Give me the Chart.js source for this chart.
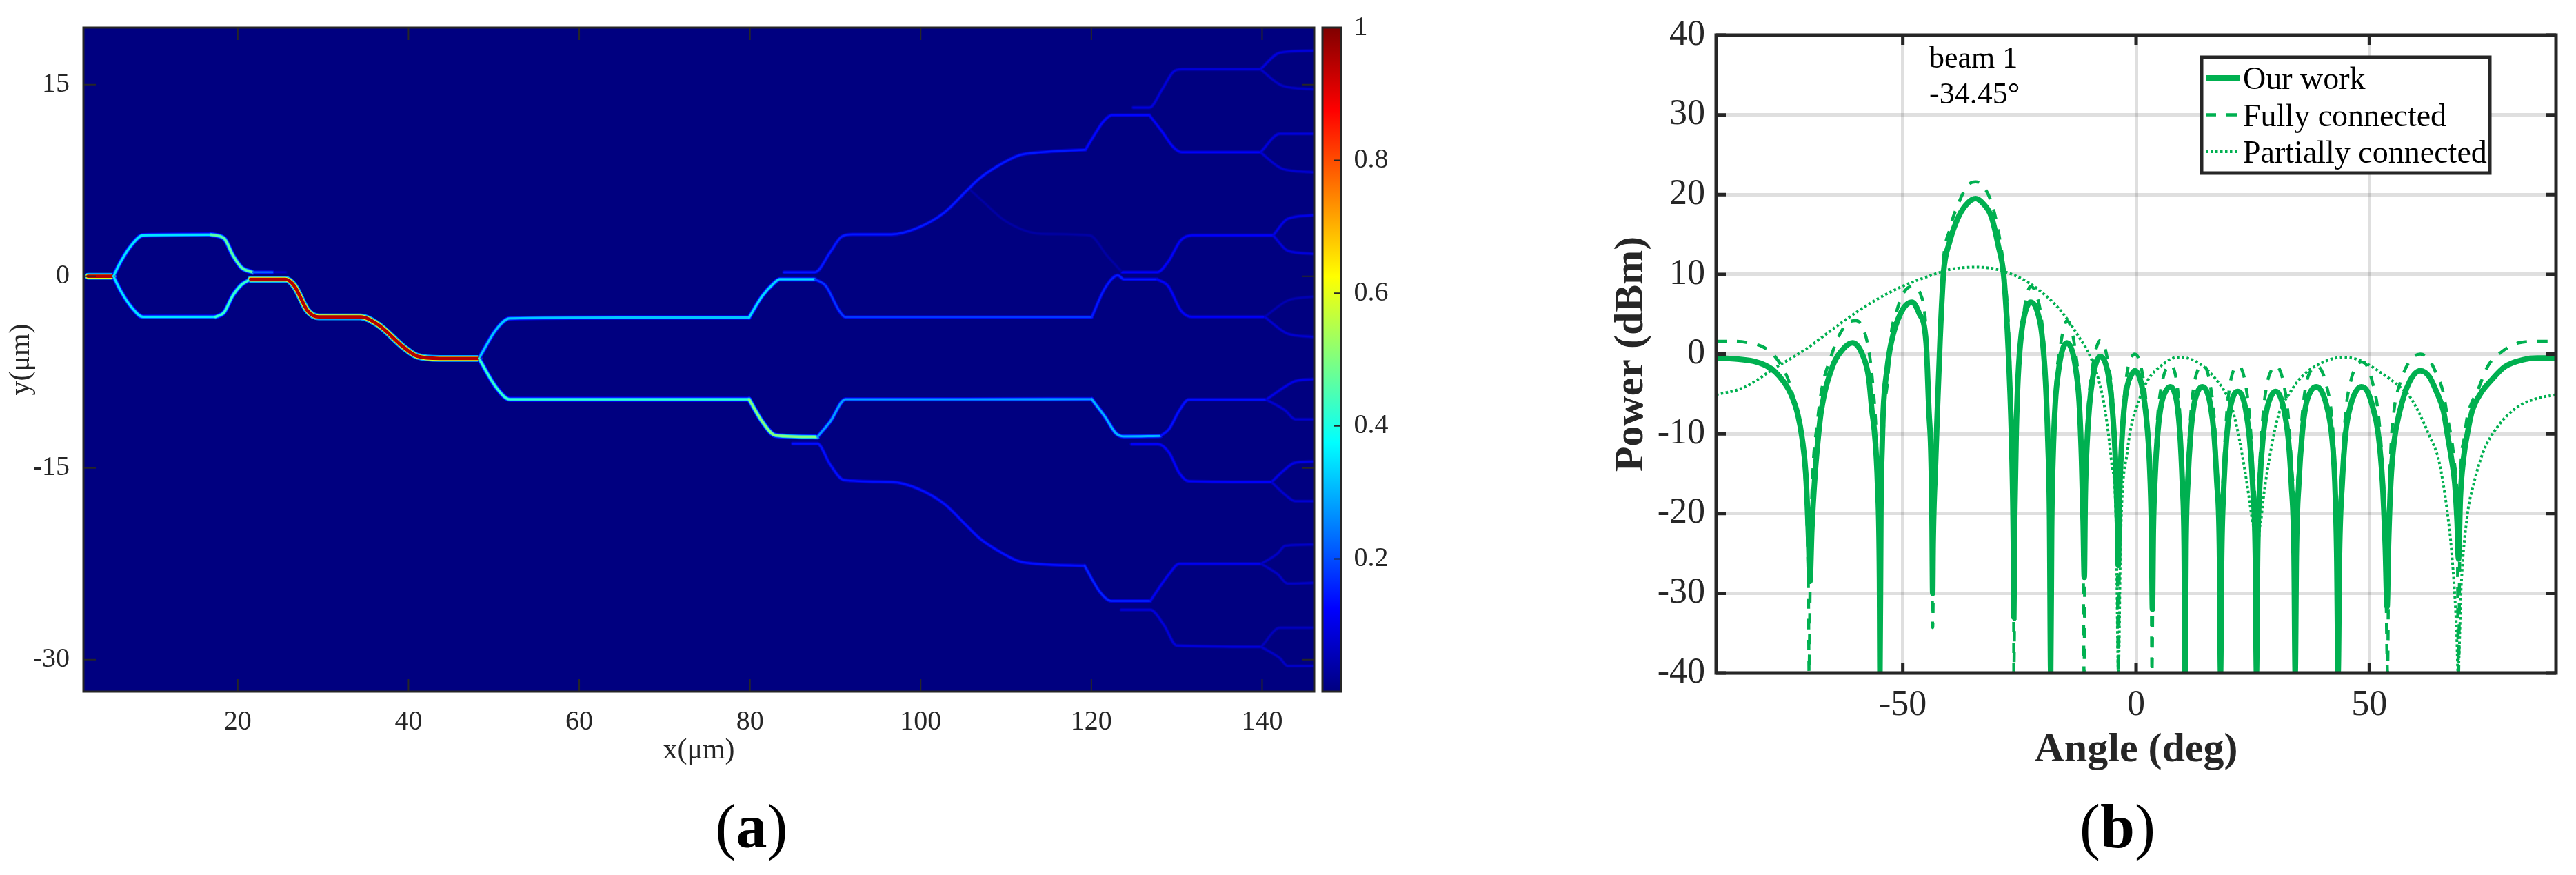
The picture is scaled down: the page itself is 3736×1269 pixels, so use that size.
<!DOCTYPE html>
<html>
<head>
<meta charset="utf-8">
<title>Waveguide field and beam pattern</title>
<script src="https://cdn.jsdelivr.net/npm/chart.js@4/dist/chart.umd.min.js"></script>
<style>
  html, body { margin: 0; background: #fff; overflow: hidden; }
  body { position: relative; width: 3736px; height: 1269px; font-family: "Liberation Serif", serif; }
  canvas { position: absolute; top: 0; }
  .note { position: absolute; color: #000; font-size: 44px; line-height: 52px; white-space: pre; }
  .panel { position: absolute; color: #000; font-size: 90px; line-height: 90px; transform: translateX(-50%); }
</style>
</head>
<body>
<canvas id="fieldChart" width="1912" height="1130" style="left:0"></canvas>
<canvas id="colorBar" width="190" height="1130" style="left:1912px"></canvas>
<canvas id="beamChart" width="1436" height="1130" style="left:2300px"></canvas>
<div class="note" style="left:2798px;top:58px">beam 1
-34.45°</div>
<div class="panel" style="left:1090px;top:1154px">(<b>a</b>)</div>
<div class="panel" style="left:3071px;top:1154px">(<b>b</b>)</div>

<script>
// panel (a): field tick labels
const fieldXTicks = [20, 40, 60, 80, 100, 120, 140];
const fieldYTicks = [-30, -15, 0, 15];
const barTicks = [0.2, 0.4, 0.6, 0.8, 1];

// panel (a): waveguide traces, [x um, y um]
const inputGuide = [[2.45, 0], [5.43, 0]];
const armUpper = [[5.43, 0], [6.3, 1.16], [7.6, 2.48], [8.88, 3.2], [16.86, 3.25]];
const armUpperEnd = [[16.86, 3.25], [18.4, 2.96], [19.43, 1.64], [20.46, 0.67], [21.75, 0.31]];
const armUpperFade = [[21.75, 0.31], [24.07, 0.31]];
const armUpperFaint = [[24.07, 0.31], [25.6, 0.31]];
const armLower = [[5.43, 0], [6.3, -1.16], [7.6, -2.46], [8.88, -3.18], [17.38, -3.18]];
const armLowerEnd = [[17.38, -3.18], [18.4, -2.82], [19.43, -1.49], [20.46, -0.65], [21.5, -0.24]];
const hotGuide = [[21.5, -0.24], [25.6, -0.24], [26.64, -0.77], [28.18, -2.7], [29.47, -3.18], [34.36, -3.18],
  [36.42, -3.78], [39.5, -5.59], [41.05, -6.26], [43.62, -6.43], [48.25, -6.43]];
const splitUpper = [[48.25, -6.43], [50.3, -4.14], [51.86, -3.3], [65, -3.23], [79.9, -3.23]];
const splitLower = [[48.25, -6.43], [50.3, -8.72], [51.86, -9.63], [65, -9.63], [79.9, -9.63]];

const midBump = [[79.9, -3.23], [81.44, -1.55], [82.73, -0.6], [83.5, -0.24], [87.62, -0.24]];
const midReturn = [[87.62, -0.24], [88.9, -0.77], [90.45, -2.7], [91.2, -3.2], [105, -3.2], [120.04, -3.2]];
const midFork = [[84, 0.31], [87.6, 0.31], [89.4, 1.88], [90.7, 3.08], [92, 3.27], [96.6, 3.27], [99.7, 3.8],
  [102.8, 5], [105.4, 6.7], [106.9, 7.66], [109, 8.62], [111.5, 9.46], [114.1, 9.7], [119.3, 9.9]];
const topBump = [[119.3, 9.9], [120.3, 11], [121.4, 12.1], [122.4, 12.6], [126.8, 12.6]];
const topForkUp = [[124.9, 13.2], [126.8, 13.2], [128.3, 14.64], [129.6, 16], [130.6, 16.2], [139.8, 16.2]];
const topForkDown = [[126.8, 12.6], [128.3, 11.3], [129.6, 10.1], [130.6, 9.7], [139.8, 9.7]];
const topEndA = [[139.8, 16.2], [142.1, 17.5], [145.9, 17.65]];
const topEndB = [[139.8, 16.2], [142.4, 14.9], [145.9, 14.64]];
const topEndC = [[139.8, 9.7], [142.1, 11.15], [145.9, 11.15]];
const topEndD = [[139.8, 9.7], [142.4, 8.4], [145.9, 8.14]];
const faintArc = [[105.9, 6.7], [107.1, 5.97], [110, 4.29], [114.1, 3.32], [119.8, 3.2], [121.8, 1.64], [123.6, 0.31]];
const innerBump = [[120.04, -3.2], [121.6, -0.92], [123.1, 0.07], [123.8, -0.24], [127.7, -0.24]];
const innerReturn = [[127.7, -0.24], [129, -0.77], [130.5, -2.7], [131.8, -3.18], [140.3, -3.18]];
const innerFork = [[123.6, 0.31], [127.7, 0.31], [129, 1.15], [130.5, 2.84], [131.8, 3.2], [141.3, 3.2]];
const innerEndA = [[141.3, 3.2], [143, 4.5], [145.9, 4.77]];
const innerEndB = [[141.3, 3.2], [143, 2], [145.9, 1.76]];
const innerEndC = [[140.3, -3.18], [143, -1.9], [145.9, -1.6]];
const innerEndD = [[140.3, -3.18], [143, -4.5], [145.9, -4.74]];

const lowBump = [[79.9, -9.63], [81.44, -11.37], [83, -12.45], [87.9, -12.57]];
const lowReturn = [[87.9, -12.57], [89.4, -11.37], [91.2, -9.63], [105, -9.63], [120.04, -9.62]];
const lowFork = [[85, -13.1], [87.9, -13.1], [89.4, -14.74], [91, -15.94], [96.6, -16.1], [99.7, -16.63], [102.8, -17.83],
  [105.4, -19.53], [106.9, -20.5], [109, -21.45], [111.5, -22.3], [114.1, -22.53], [119.2, -22.65]];
const lowRight = [[120.04, -9.62], [121.6, -11], [122.9, -12.3], [123.8, -12.53], [128.1, -12.5]];
const lowRightUp = [[128.1, -12.5], [129.1, -11.95], [130.3, -10.5], [131.4, -9.65], [140.5, -9.65]];
const lowRightDown = [[124.7, -13.14], [127.8, -13.14], [129.1, -13.8], [130.3, -15.4], [131.4, -16.04], [141.1, -16.1]];
const lowEndA = [[140.5, -9.65], [142.7, -8.63], [143.9, -8.2], [145.9, -8.06]];
const lowEndB = [[140.5, -9.65], [142.7, -10.5], [143.9, -11.2], [145.9, -11.2]];
const lowEndC = [[141.1, -16.1], [142.7, -15.1], [143.8, -14.6], [145.9, -14.5]];
const lowEndD = [[141.1, -16.1], [142.7, -17.1], [143.9, -17.6], [145.9, -17.6]];
const edgeBump = [[119.2, -22.65], [121, -24.7], [122.3, -25.4], [126.9, -25.4]];
const edgeUp = [[126.9, -25.4], [129.1, -23.3], [130.3, -22.5], [139.9, -22.5]];
const edgeDown = [[123.5, -26.1], [126.9, -26.1], [128.5, -27.3], [130, -28.9], [139.9, -29]];
const edgeEndA = [[139.9, -22.5], [141.8, -21.7], [142.7, -21.1], [145.9, -21]];
const edgeEndB = [[139.9, -22.5], [141.8, -23.3], [143, -24.05], [145.9, -24]];
const edgeEndC = [[139.9, -29], [142.1, -27.5], [145.9, -27.5]];
const edgeEndD = [[139.9, -29], [142.1, -29.9], [143, -30.5], [145.9, -30.5]];

// trace + field level (0..1)
const guideLevels = [
  [faintArc, 0.035], [armUpperFaint, 0.06],
  [inputGuide, 0.95], [armUpper, 0.35], [armUpperEnd, 0.46], [armUpperFade, 0.22],
  [armLower, 0.35], [armLowerEnd, 0.42], [hotGuide, 0.95],
  [splitUpper, 0.32], [splitLower, 0.42],
  [midBump, 0.34], [midReturn, 0.18], [midFork, 0.15],
  [topBump, 0.13], [topForkUp, 0.09], [topForkDown, 0.12],
  [topEndA, 0.09], [topEndB, 0.07], [topEndC, 0.09], [topEndD, 0.08],
  [innerBump, 0.15], [innerReturn, 0.12], [innerFork, 0.12],
  [innerEndA, 0.1], [innerEndB, 0.09], [innerEndC, 0.05], [innerEndD, 0.08],
  [lowBump, 0.5], [lowReturn, 0.28], [lowFork, 0.14],
  [lowRight, 0.3], [lowRightUp, 0.14], [lowRightDown, 0.12],
  [lowEndA, 0.1], [lowEndB, 0.08], [lowEndC, 0.1], [lowEndD, 0.08],
  [edgeBump, 0.16], [edgeUp, 0.11], [edgeDown, 0.09],
  [edgeEndA, 0.07], [edgeEndB, 0.07], [edgeEndC, 0.06], [edgeEndD, 0.07]
];

// jet colour map, used for the traces and the colour bar
const jetStops = [[0, [0, 0, 128]], [0.125, [0, 0, 255]], [0.375, [0, 255, 255]],
  [0.625, [255, 255, 0]], [0.875, [255, 0, 0]], [1, [128, 0, 0]]];

// panel (b): tick labels
const angleTicks = [-50, 0, 50];
const powerTicks = [-40, -30, -20, -10, 0, 10, 20, 30, 40];

// panel (b): series, [angle deg, power dBm]
const ourWork = [
  [-90, -0.5], [-86, -0.6], [-82, -0.9], [-79.5, -1.4], [-77.4, -2.2], [-75.5, -3.5], [-74, -5], [-72.5, -7.6], [-71.6, -10.5], [-70.8, -15], [-70.2, -23], [-69.9, -28.5],
  [-69.5, -22], [-68.8, -15], [-68.1, -10.3], [-67.5, -7.2], [-65.1, -1.6], [-63, 0.5], [-60.8, 1.4], [-58.7, 0], [-57.3, -3], [-56.6, -7.2], [-56.1, -9.6], [-55.4, -16.6], [-55, -28], [-54.9, -40],
  [-54.7, -20], [-54.4, -11], [-54.2, -7.2], [-53.4, -2], [-52.5, 1.4], [-50.4, 5.2], [-48, 6.5], [-46.5, 5.1], [-45, 1.4], [-44.4, -7.2], [-44, -12], [-43.75, -20], [-43.6, -30],
  [-43.5, -24], [-43, -14], [-42.6, -7.2], [-42, 2], [-41.3, 10], [-40, 14], [-38, 17.3], [-36, 19], [-34.4, 19.5], [-33, 19], [-31, 17.2], [-29.5, 13.5], [-28.4, 10], [-27.6, 3], [-27, -5], [-26.6, -13], [-26.3, -24], [-26.2, -33],
  [-26, -20], [-25.7, -10], [-25.3, -3], [-24.6, 2.5], [-23.7, 5.4], [-22.6, 6.5], [-21.2, 5.4], [-20.2, 2.5], [-19.4, -3.5], [-18.9, -11], [-18.55, -20], [-18.3, -40],
  [-18.1, -22], [-17.8, -13], [-17.3, -6], [-16.6, -2], [-15.8, 0.5], [-14.8, 1.4], [-13.7, 0.4], [-12.9, -2], [-12.2, -6], [-11.7, -13], [-11.35, -21], [-11.1, -28],
  [-10.9, -18], [-10.5, -11], [-10, -6.5], [-9.3, -3], [-8.5, -1], [-7.7, -0.3], [-6.6, -1.1], [-5.8, -3.2], [-5, -7.5], [-4.4, -13.5], [-4, -21], [-3.8, -26.5],
  [-3.6, -19], [-3.2, -12.5], [-2.6, -7], [-1.9, -4], [-1, -2.6], [-0.3, -2.1], [0.6, -2.7], [1.4, -4.5], [2.2, -8], [2.9, -14], [3.3, -22], [3.5, -32],
  [3.7, -22], [4.1, -15], [4.7, -9.5], [5.5, -6], [6.4, -4.6], [7.3, -4.1], [8.1, -4.6], [8.8, -6.3], [9.4, -10], [9.9, -16], [10.3, -24], [10.5, -40],
  [10.7, -24], [11.1, -16], [11.7, -10], [12.4, -6.4], [13.3, -4.6], [14.2, -4.1], [15.1, -4.6], [15.9, -6.3], [16.7, -10], [17.3, -16], [17.85, -24], [18.1, -40],
  [18.35, -25], [18.8, -16.5], [19.4, -10.5], [20.1, -7], [20.9, -5.2], [21.8, -4.7], [22.7, -5.2], [23.5, -7], [24.3, -10.5], [25, -16.5], [25.55, -25], [25.8, -40],
  [26.05, -25], [26.5, -16.5], [27.2, -10.5], [28, -7], [29, -5.2], [29.9, -4.7], [30.8, -5.2], [31.7, -7], [32.6, -10.5], [33.3, -16.5], [33.85, -25], [34.1, -40],
  [34.35, -25], [34.9, -16], [35.6, -10], [36.4, -6.4], [37.5, -4.6], [38.6, -4.1], [39.7, -4.6], [40.8, -6.4], [41.9, -10], [42.6, -16], [43, -25], [43.3, -40],
  [43.6, -25], [44.2, -16], [44.9, -10], [46, -6.4], [47.2, -4.6], [48.3, -4.1], [49.5, -4.6], [50.6, -6.4], [51.9, -10], [52.8, -16], [53.4, -24], [53.8, -31.7],
  [54.1, -24], [54.6, -16], [55.3, -11], [56.5, -7.2], [58.5, -3.6], [60.9, -2.1], [62.8, -2.8], [64.3, -4.6], [65.9, -7.2], [66.7, -10], [67.7, -13.5], [68.3, -16.2], [68.8, -21], [69.1, -25.7],
  [69.5, -18], [70.2, -13], [71, -10], [72, -7.2], [74, -4.8], [76.1, -3.3], [79, -1.6], [83, -0.7], [86, -0.5], [90, -0.5]
];
const fullyConnected = [
  [-90, 1.6], [-86, 1.6], [-83, 1.4], [-80, 0.9], [-77.4, -0.3], [-75.5, -2], [-74.5, -3.3], [-73, -6.5], [-72, -9.5], [-71, -15], [-70.5, -22], [-70.2, -32], [-70.1, -40],
  [-69.8, -25], [-69.3, -15], [-68.4, -9], [-67.4, -4.5], [-65.5, -0.5], [-63.5, 2.5], [-61.8, 3.9], [-60, 4.2], [-58.5, 3.2], [-57.3, 0.5], [-56.4, -4], [-55.7, -10], [-55.2, -19], [-54.9, -40],
  [-54.6, -20], [-54.1, -9], [-53.2, -3], [-52.5, 2.5], [-51.5, 5], [-50, 7.5], [-48, 8.5], [-46.2, 7.5], [-45.2, 4.5], [-44.6, -2], [-44.1, -10], [-43.8, -20], [-43.6, -34.3],
  [-43.3, -18], [-42.8, -8], [-42, 3], [-41.4, 11], [-40, 15.5], [-38, 19], [-36, 21.2], [-34.4, 21.6], [-33, 21.2], [-31, 19], [-29.4, 15], [-28.3, 10.5], [-27.4, 4], [-26.9, -4], [-26.5, -13], [-26.25, -25], [-26.2, -40],
  [-25.9, -20], [-25.5, -8], [-25, -1], [-24.3, 4], [-23.4, 7.4], [-22.6, 8.5], [-21.4, 7.5], [-20.3, 4.5], [-19.5, -1], [-19, -8], [-18.6, -18], [-18.3, -40],
  [-18, -18], [-17.6, -9], [-17.1, -3], [-16.4, 0.3], [-15.6, 3], [-14.8, 4.2], [-13.8, 3], [-13, 0.3], [-12.3, -3.5], [-11.8, -10], [-11.4, -19], [-11.15, -40],
  [-10.9, -17], [-10.4, -8], [-9.8, -3.5], [-9.1, -0.8], [-8.4, 1], [-7.7, 1.7], [-6.7, 0.8], [-5.9, -1.5], [-5.1, -5], [-4.5, -11], [-4.1, -19], [-3.8, -40],
  [-3.5, -17], [-3, -9], [-2.4, -4.5], [-1.7, -1.6], [-1, -0.4], [-0.3, 0], [0.5, -0.5], [1.3, -2.3], [2.1, -5.8], [2.8, -12], [3.2, -20], [3.4, -40],
  [3.7, -20], [4.1, -13], [4.7, -7.3], [5.5, -3.8], [6.4, -1.9], [7.3, -1.4], [8.1, -1.9], [8.8, -3.9], [9.4, -7.7], [9.9, -14], [10.3, -22], [10.5, -40],
  [10.7, -22], [11.1, -14], [11.7, -7.7], [12.4, -3.9], [13.3, -1.9], [14.2, -1.4], [15.1, -1.9], [15.9, -3.9], [16.7, -7.7], [17.3, -14], [17.85, -22], [18.1, -40],
  [18.35, -22], [18.8, -14], [19.4, -7.7], [20.1, -3.9], [20.9, -2], [21.8, -1.5], [22.7, -2], [23.5, -3.9], [24.3, -7.7], [25, -14], [25.55, -22], [25.8, -40],
  [26.05, -22], [26.5, -14], [27.2, -7.7], [28, -3.9], [29, -2], [29.9, -1.5], [30.8, -2], [31.7, -3.9], [32.6, -7.7], [33.3, -14], [33.85, -22], [34.1, -40],
  [34.35, -22], [34.9, -14], [35.6, -7.7], [36.4, -3.9], [37.5, -2], [38.6, -1.5], [39.7, -2], [40.8, -3.9], [41.9, -7.7], [42.6, -14], [43, -22], [43.3, -40],
  [43.6, -22], [44.2, -14], [44.9, -7.4], [46, -3.4], [47.2, -1.5], [48.3, -1], [49.5, -1.5], [50.6, -3.4], [51.9, -7.4], [52.8, -14], [53.4, -22], [53.9, -40],
  [54.2, -20], [54.6, -12], [55.3, -7], [56.5, -3.8], [58.5, -1], [60.9, 0], [62.8, -0.7], [64.3, -2.4], [65.9, -5], [66.7, -7.8], [67.7, -11], [68.3, -14], [68.8, -19], [69.1, -40],
  [69.5, -16], [70.2, -11], [71, -7.8], [72, -6], [72.9, -5], [75.4, -1.5], [78.4, 0.3], [82, 1.4], [86.4, 1.6], [90, 1.6]
];
const partiallyConnected = [
  [-90, -5.1], [-84.1, -4.2], [-77.3, -1.7], [-70.6, 0.7], [-63.7, 3.7], [-56.9, 6.4], [-50.1, 8.5], [-43.3, 10], [-40, 10.6], [-34.4, 10.9], [-29.8, 10.6], [-22.9, 8.9],
  [-16.1, 5.4], [-12.1, 2], [-10, -0.1], [-8, -3.3], [-6.6, -7.2], [-5.3, -13.4], [-4.3, -20.9], [-3.8, -40], [-3.3, -22.9], [-1.9, -12.3], [0.8, -5.5], [2.6, -3.2], [5.5, -1.4],
  [8.9, -0.4], [10.9, -0.5], [14.3, -1.5], [17.7, -3.6], [19.7, -5.5], [21.1, -7.9], [23.2, -14.2], [24.9, -20.9], [25.6, -26.9], [25.8, -40], [26.1, -27], [26.9, -20.2],
  [28.6, -13], [30.6, -7.5], [32.7, -5.1], [35.4, -2.9], [38.8, -1.4], [44.3, -0.4], [47.6, -0.7], [52.4, -2.3], [56.5, -4.1], [58.5, -5.2], [60.5, -7.2], [62.9, -10.3],
  [64.9, -13.4], [66.7, -19.8], [67.7, -25.3], [68.7, -34.8], [69, -40], [69.7, -28.9], [71, -20.2], [72.4, -16.2], [74.4, -12.3], [77.5, -9.1], [81.6, -6.7], [85.7, -5.6], [90, -5.1]
];

const serif = '"Liberation Serif", serif';
const ink = '#262626';
const green = '#00b050';

function toPoints(pairs) {
  return pairs.map(p => ({ x: p[0], y: p[1] }));
}

function jet(v) {
  const t = Math.min(1, Math.max(0, v));
  let i = 0;
  while (i < jetStops.length - 2 && t > jetStops[i + 1][0]) i++;
  const [p0, c0] = jetStops[i];
  const [p1, c1] = jetStops[i + 1];
  const k = (t - p0) / (p1 - p0);
  const ch = c0.map((c, n) => Math.round(c + (c1[n] - c) * k));
  return `rgb(${ch[0]},${ch[1]},${ch[2]})`;
}

// inward ticks and box around the plot area
const axisFrame = {
  id: 'axisFrame',
  afterDatasetsDraw(chart, args, opts) {
    const { ctx, chartArea: a, scales } = chart;
    ctx.save();
    ctx.strokeStyle = ink;
    ctx.lineWidth = opts.tickWidth;
    ctx.beginPath();
    if (scales.x && scales.x.type === 'linear') {
      scales.x.ticks.forEach(t => {
        const px = scales.x.getPixelForValue(t.value);
        ctx.moveTo(px, a.bottom); ctx.lineTo(px, a.bottom - opts.tickLength);
        ctx.moveTo(px, a.top); ctx.lineTo(px, a.top + opts.tickLength);
      });
    }
    scales.y.ticks.forEach(t => {
      const py = scales.y.getPixelForValue(t.value);
      if (opts.leftTicks !== false) {
        ctx.moveTo(a.left, py); ctx.lineTo(a.left + opts.tickLength, py);
      }
      ctx.moveTo(a.right, py); ctx.lineTo(a.right - opts.tickLength, py);
    });
    ctx.stroke();
    ctx.lineWidth = opts.frameWidth;
    ctx.strokeRect(a.left, a.top, a.right - a.left, a.bottom - a.top);
    ctx.restore();
  }
};

const plotFill = {
  id: 'plotFill',
  beforeDatasetsDraw(chart, args, opts) {
    const { ctx, chartArea: a } = chart;
    ctx.save();
    ctx.fillStyle = opts.color;
    ctx.fillRect(a.left, a.top, a.right - a.left, a.bottom - a.top);
    ctx.restore();
  }
};

// boxed legend inside the plot, styles come from the datasets
const boxLegend = {
  id: 'boxLegend',
  afterDraw(chart, args, opts) {
    const { ctx } = chart;
    ctx.save();
    ctx.fillStyle = '#fff';
    ctx.fillRect(opts.x, opts.y, opts.w, opts.h);
    ctx.strokeStyle = ink;
    ctx.lineWidth = 5;
    ctx.strokeRect(opts.x, opts.y, opts.w, opts.h);
    ctx.font = `46px ${serif}`;
    ctx.textBaseline = 'alphabetic';
    chart.data.datasets.forEach((ds, i) => {
      const y = opts.y + opts.firstRow + i * opts.rowGap;
      ctx.strokeStyle = ds.borderColor;
      ctx.lineWidth = ds.borderWidth;
      ctx.setLineDash(ds.borderDash || []);
      ctx.beginPath();
      ctx.moveTo(opts.x + 6, y);
      ctx.lineTo(opts.x + 56, y);
      ctx.stroke();
      ctx.fillStyle = '#000';
      ctx.fillText(ds.label, opts.x + 60, y + 16);
    });
    ctx.restore();
  }
};

function setTicks(values) {
  return scale => { scale.ticks = values.map(v => ({ value: v })); };
}

// three glow layers per trace so the line falls off like the field does
function guideDatasets() {
  const layers = [
    { share: 0.3, width: level => 5 + 5 * level },
    { share: 0.62, width: level => 3.5 + 3.5 * level },
    { share: 1, width: level => 2 + 3 * level }
  ];
  const sets = [];
  layers.forEach(layer => {
    guideLevels.forEach(([pairs, level]) => {
      sets.push({
        data: toPoints(pairs),
        borderColor: jet(level * layer.share),
        borderWidth: layer.width(level),
        pointRadius: 0,
        cubicInterpolationMode: 'monotone',
        borderCapStyle: 'round',
        clip: 0
      });
    });
  });
  // Chart.js paints the first dataset last, core layer has to end up on top
  return sets.reverse();
}

new Chart(document.getElementById('fieldChart'), {
  type: 'line',
  data: { datasets: guideDatasets() },
  plugins: [plotFill, axisFrame],
  options: {
    responsive: false,
    animation: false,
    devicePixelRatio: 1,
    layout: { padding: { top: 40, right: 6 } },
    plugins: {
      legend: { display: false },
      tooltip: { enabled: false },
      plotFill: { color: '#000080' },
      axisFrame: { tickLength: 18, tickWidth: 2, frameWidth: 3 }
    },
    scales: {
      x: {
        type: 'linear', min: 1.92, max: 146.1,
        afterBuildTicks: setTicks(fieldXTicks),
        afterFit: s => { s.height = 127; },
        grid: { display: false },
        border: { display: false },
        ticks: { color: ink, font: { family: serif, size: 40 }, padding: 12, maxRotation: 0 },
        title: { display: true, text: 'x(μm)', color: ink, font: { family: serif, size: 42 }, padding: { top: 16, bottom: 16 } }
      },
      y: {
        min: -32.5, max: 19.46,
        afterBuildTicks: setTicks(fieldYTicks),
        afterFit: s => { s.width = 121; },
        grid: { display: false },
        border: { display: false },
        ticks: { color: ink, font: { family: serif, size: 40 }, padding: 12 },
        title: { display: true, text: 'y(μm)', color: ink, font: { family: serif, size: 42 }, padding: { top: 6, bottom: 6 } }
      }
    }
  }
});

new Chart(document.getElementById('colorBar'), {
  type: 'bar',
  data: {
    labels: ['level'],
    datasets: [{
      data: [[0, 1]],
      barPercentage: 1,
      categoryPercentage: 1,
      backgroundColor: c => {
        const a = c.chart.chartArea;
        if (!a) return 'transparent';
        const g = c.chart.ctx.createLinearGradient(0, a.bottom, 0, a.top);
        jetStops.forEach(([p, rgb]) => g.addColorStop(p, `rgb(${rgb.join(',')})`));
        return g;
      }
    }]
  },
  plugins: [axisFrame],
  options: {
    responsive: false,
    animation: false,
    devicePixelRatio: 1,
    layout: { padding: { top: 40, bottom: 127, left: 6 } },
    plugins: {
      legend: { display: false },
      tooltip: { enabled: false },
      axisFrame: { tickLength: 10, tickWidth: 2, frameWidth: 3, leftTicks: false }
    },
    scales: {
      x: { display: false },
      y: {
        position: 'right', min: 0, max: 1,
        afterBuildTicks: setTicks(barTicks),
        afterFit: s => { s.width = 157.5; },
        grid: { display: false },
        border: { display: false },
        ticks: { color: ink, font: { family: serif, size: 40 }, padding: 11, callback: v => String(v) }
      }
    }
  }
});

new Chart(document.getElementById('beamChart'), {
  type: 'line',
  data: {
    datasets: [
      { label: 'Our work', data: toPoints(ourWork), borderColor: green, borderWidth: 8, pointRadius: 0, cubicInterpolationMode: 'monotone', borderCapStyle: 'round' },
      { label: 'Fully connected', data: toPoints(fullyConnected), borderColor: green, borderWidth: 4.5, borderDash: [15, 15], pointRadius: 0, cubicInterpolationMode: 'monotone' },
      { label: 'Partially connected', data: toPoints(partiallyConnected), borderColor: green, borderWidth: 4, borderDash: [3.5, 3.5], pointRadius: 0, cubicInterpolationMode: 'monotone' }
    ]
  },
  plugins: [axisFrame, boxLegend],
  options: {
    responsive: false,
    animation: false,
    devicePixelRatio: 1,
    layout: { padding: { top: 51, right: 29 } },
    plugins: {
      legend: { display: false },
      tooltip: { enabled: false },
      axisFrame: { tickLength: 14, tickWidth: 5, frameWidth: 5 },
      boxLegend: { x: 893, y: 83, w: 418, h: 168, firstRow: 30, rowGap: 53.5 }
    },
    scales: {
      x: {
        type: 'linear', min: -90, max: 90,
        afterBuildTicks: setTicks(angleTicks),
        afterFit: s => { s.height = 154; },
        grid: { color: 'rgba(38,38,38,0.15)', lineWidth: 5, drawTicks: false },
        border: { display: false },
        ticks: { color: ink, font: { family: serif, size: 52 }, padding: 16, maxRotation: 0 },
        title: { display: true, text: 'Angle (deg)', color: ink, font: { family: serif, size: 60, weight: 'bold' }, padding: { top: 6, bottom: 6 } }
      },
      y: {
        min: -40, max: 40,
        afterBuildTicks: setTicks(powerTicks),
        afterFit: s => { s.width = 189; },
        grid: { color: 'rgba(38,38,38,0.15)', lineWidth: 5, drawTicks: false },
        border: { display: false },
        ticks: { color: ink, font: { family: serif, size: 52 }, padding: 16 },
        title: { display: true, text: 'Power (dBm)', color: ink, font: { family: serif, size: 60, weight: 'bold' }, padding: { top: 30, bottom: 30 } }
      }
    }
  }
});
</script>
</body>
</html>
